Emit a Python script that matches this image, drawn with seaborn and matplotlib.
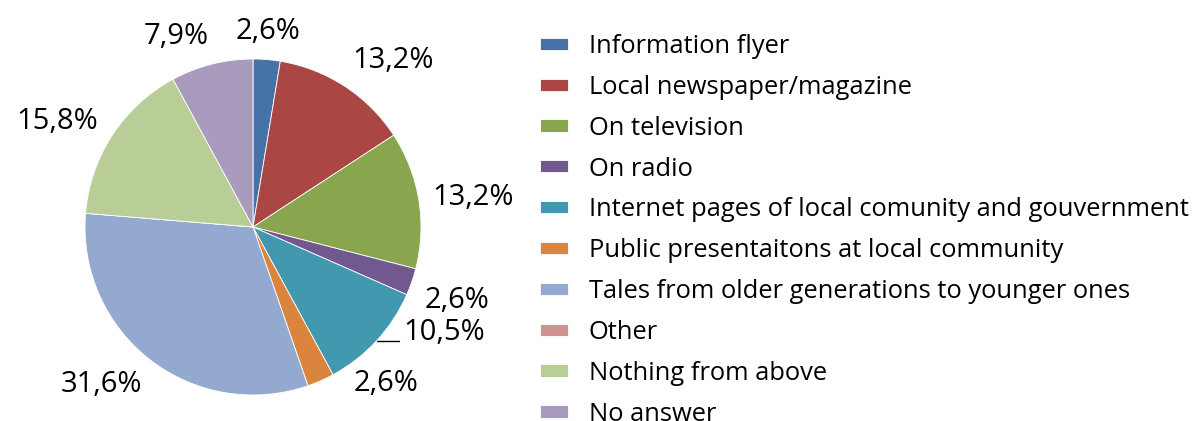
import numpy as np
import seaborn as sns
import matplotlib.pyplot as plt

# data
categories = [
    "Information flyer",
    "Local newspaper/magazine",
    "On television",
    "On radio",
    "Internet pages of local comunity and gouvernment",
    "Public presentaitons at local community",
    "Tales from older generations to younger ones",
    "Other",
    "Nothing from above",
    "No answer",
]
shares = [2.6, 13.2, 13.2, 2.6, 10.5, 2.6, 31.6, 0.0, 15.8, 7.9]
colors = ["#4572A7", "#AA4643", "#89A54E", "#71588F", "#4198AF",
          "#DB843D", "#93A9CF", "#D19392", "#B9CD96", "#A99BBD"]

sns.set_style("white")
plt.rcParams["font.family"] = ["Open Sans", "DejaVu Sans"]
plt.rcParams["text.color"] = "black"

W, H = 1195, 421
fig = plt.figure(figsize=(W / 100, H / 100), dpi=100)
cx, cy, r = 253, 227, 168
ax = fig.add_axes([(cx - r) / W, (H - cy - r) / H, 2 * r / W, 2 * r / H])

wedges, _ = ax.pie(shares, colors=colors, startangle=90, counterclock=False,
                   radius=1.0, wedgeprops=dict(edgecolor="white", linewidth=0.6))
ax.set_xlim(-1, 1)
ax.set_ylim(-1, 1)
ax.set_aspect("equal")
ax.axis("off")

px = 1.0 / r  # one pixel in data units
nudge = {5: (28, 24), 8: (-3, -8)}  # labels moved by hand in the original

for i, (w, v) in enumerate(zip(wedges, shares)):
    if v == 0:
        continue
    ang = np.deg2rad((w.theta1 + w.theta2) / 2)
    c, s = np.cos(ang), np.sin(ang)
    txt = f"{v:.1f}%".replace(".", ",")
    if i == 4:
        # label with a leader line
        x0, y0 = c, s
        ax.plot([x0, x0 + 22 * px], [y0, y0], color="black", lw=1, clip_on=False)
        ax.text(x0 + 27 * px, y0 + 8 * px, txt, ha="left", va="center",
                fontsize=21, clip_on=False)
        continue
    ha = "left" if c > 0.2 else ("right" if c < -0.2 else "center")
    va = "bottom" if s > 0.3 else ("top" if s < -0.3 else "center")
    dx, dy = nudge.get(i, (0, 0))
    ax.text(1.08 * c + dx * px, 1.08 * s + dy * px, txt, ha=ha, va=va,
            fontsize=21, clip_on=False)

fig.legend(wedges, categories, loc="upper left", bbox_to_anchor=(540 / W, 1 - 34 / H),
           frameon=False, fontsize=18.4, handlelength=1.1, handleheight=0.36,
           handletextpad=0.8, labelspacing=0.62, borderaxespad=0, borderpad=0)

fig.savefig("out.png", dpi=100)
